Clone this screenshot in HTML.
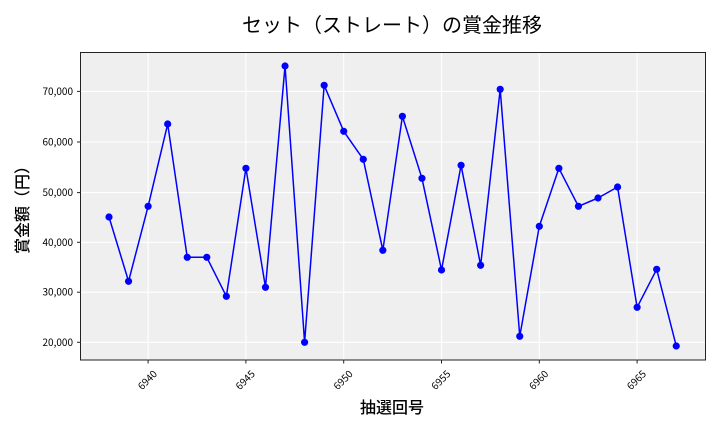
<!DOCTYPE html>
<html>
<head>
<meta charset="utf-8">
<style>
html,body{margin:0;padding:0;background:#fff;}
svg{display:block;}
text{font-family:"Liberation Sans","Noto Sans CJK JP",sans-serif;fill:#000;}
.tk{font-family:"Noto Sans CJK JP","Liberation Sans",sans-serif;}
.lb{font-family:"Noto Sans CJK JP","Liberation Sans",sans-serif;font-weight:500;}
</style>
</head>
<body>
<svg width="720" height="432" viewBox="0 0 720 432" xmlns="http://www.w3.org/2000/svg">
<rect x="0" y="0" width="720" height="432" fill="#ffffff"/>
<rect x="80.5" y="52.5" width="625" height="307.5" fill="#efefef"/>
<g stroke="#ffffff" stroke-width="1.1">
<line x1="148.1" y1="52.5" x2="148.1" y2="360"/>
<line x1="245.9" y1="52.5" x2="245.9" y2="360"/>
<line x1="343.7" y1="52.5" x2="343.7" y2="360"/>
<line x1="441.5" y1="52.5" x2="441.5" y2="360"/>
<line x1="539.3" y1="52.5" x2="539.3" y2="360"/>
<line x1="637.1" y1="52.5" x2="637.1" y2="360"/>
<line x1="80.5" y1="342.3" x2="705.5" y2="342.3"/>
<line x1="80.5" y1="292.2" x2="705.5" y2="292.2"/>
<line x1="80.5" y1="242.3" x2="705.5" y2="242.3"/>
<line x1="80.5" y1="192.6" x2="705.5" y2="192.6"/>
<line x1="80.5" y1="142" x2="705.5" y2="142"/>
<line x1="80.5" y1="91.4" x2="705.5" y2="91.4"/>
</g>
<rect x="80.5" y="52.5" width="625" height="307.5" fill="none" stroke="#222" stroke-width="1"/>
<g stroke="#222" stroke-width="1">
<line x1="77" y1="342.3" x2="80.5" y2="342.3"/>
<line x1="77" y1="292.2" x2="80.5" y2="292.2"/>
<line x1="77" y1="242.3" x2="80.5" y2="242.3"/>
<line x1="77" y1="192.6" x2="80.5" y2="192.6"/>
<line x1="77" y1="142" x2="80.5" y2="142"/>
<line x1="77" y1="91.4" x2="80.5" y2="91.4"/>
<line x1="148.1" y1="360" x2="148.1" y2="363.5"/>
<line x1="245.9" y1="360" x2="245.9" y2="363.5"/>
<line x1="343.7" y1="360" x2="343.7" y2="363.5"/>
<line x1="441.5" y1="360" x2="441.5" y2="363.5"/>
<line x1="539.3" y1="360" x2="539.3" y2="363.5"/>
<line x1="637.1" y1="360" x2="637.1" y2="363.5"/>
</g>
<g font-size="10" text-anchor="end">
<text class="tk" x="73" y="345.8">20,000</text>
<text class="tk" x="73" y="295.7">30,000</text>
<text class="tk" x="73" y="245.8">40,000</text>
<text class="tk" x="73" y="196.1">50,000</text>
<text class="tk" x="73" y="145.5">60,000</text>
<text class="tk" x="73" y="94.9">70,000</text>
</g>
<g font-size="10" text-anchor="middle">
<text class="tk" transform="translate(147.5,380) rotate(-45)" y="3.5">6940</text>
<text class="tk" transform="translate(245.3,380) rotate(-45)" y="3.5">6945</text>
<text class="tk" transform="translate(343.1,380) rotate(-45)" y="3.5">6950</text>
<text class="tk" transform="translate(440.9,380) rotate(-45)" y="3.5">6955</text>
<text class="tk" transform="translate(538.7,380) rotate(-45)" y="3.5">6960</text>
<text class="tk" transform="translate(636.5,380) rotate(-45)" y="3.5">6965</text>
</g>
<polyline fill="none" stroke="#0000ff" stroke-width="1.5" stroke-linejoin="round" points="
109.0,217 128.56,281.3 148.12,206.3 167.68,124 187.24,257.3 206.8,257.3 226.36,296.3 245.92,168.3 265.48,287.3 285.04,66
304.6,342.3 324.16,85.3 343.72,131.3 363.28,159.3 382.84,250.3 402.4,116.3 421.96,178.3 441.52,270 461.08,165.3 480.64,265.3
500.2,89.3 519.76,336.3 539.32,226.3 558.88,168.3 578.44,206.3 598.0,198 617.56,187 637.12,307.3 656.68,269.3 676.24,346"/>
<g fill="#0000ff">
<circle cx="109.0" cy="217" r="3.6"/>
<circle cx="128.56" cy="281.3" r="3.6"/>
<circle cx="148.12" cy="206.3" r="3.6"/>
<circle cx="167.68" cy="124" r="3.6"/>
<circle cx="187.24" cy="257.3" r="3.6"/>
<circle cx="206.8" cy="257.3" r="3.6"/>
<circle cx="226.36" cy="296.3" r="3.6"/>
<circle cx="245.92" cy="168.3" r="3.6"/>
<circle cx="265.48" cy="287.3" r="3.6"/>
<circle cx="285.04" cy="66" r="3.6"/>
<circle cx="304.6" cy="342.3" r="3.6"/>
<circle cx="324.16" cy="85.3" r="3.6"/>
<circle cx="343.72" cy="131.3" r="3.6"/>
<circle cx="363.28" cy="159.3" r="3.6"/>
<circle cx="382.84" cy="250.3" r="3.6"/>
<circle cx="402.4" cy="116.3" r="3.6"/>
<circle cx="421.96" cy="178.3" r="3.6"/>
<circle cx="441.52" cy="270" r="3.6"/>
<circle cx="461.08" cy="165.3" r="3.6"/>
<circle cx="480.64" cy="265.3" r="3.6"/>
<circle cx="500.2" cy="89.3" r="3.6"/>
<circle cx="519.76" cy="336.3" r="3.6"/>
<circle cx="539.32" cy="226.3" r="3.6"/>
<circle cx="558.88" cy="168.3" r="3.6"/>
<circle cx="578.44" cy="206.3" r="3.6"/>
<circle cx="598.0" cy="198" r="3.6"/>
<circle cx="617.56" cy="187" r="3.6"/>
<circle cx="637.12" cy="307.3" r="3.6"/>
<circle cx="656.68" cy="269.3" r="3.6"/>
<circle cx="676.24" cy="346" r="3.6"/>
</g>
<text x="392" y="32" font-size="20" text-anchor="middle">セット（ストレート）の賞金推移</text>
<text class="lb" x="392" y="413" font-size="16" text-anchor="middle">抽選回号</text>
<text class="lb" transform="translate(28,206) rotate(-90)" font-size="16" text-anchor="middle">賞金額（円）</text>
</svg>
</body>
</html>
